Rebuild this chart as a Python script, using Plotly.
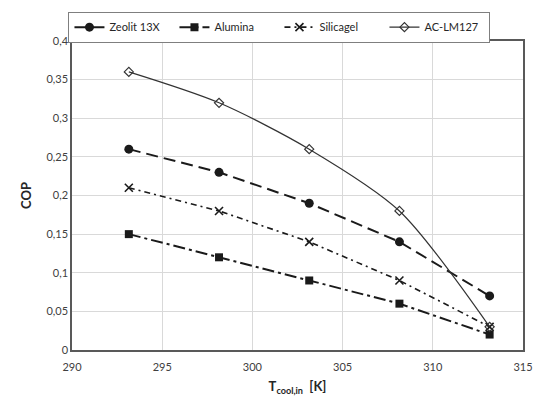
import plotly.graph_objects as go

# Coolant inlet temperature [K]
t_cool_in = [293.15, 298.15, 303.15, 308.15, 313.15]

# COP per adsorbent
cop_zeolit = [0.26, 0.23, 0.19, 0.14, 0.07]
cop_alumina = [0.15, 0.12, 0.09, 0.06, 0.02]
cop_silicagel = [0.21, 0.18, 0.14, 0.09, 0.03]
cop_aclm127 = [0.36, 0.32, 0.26, 0.18, 0.03]

y_ticks = [0, 0.05, 0.1, 0.15, 0.2, 0.25, 0.3, 0.35, 0.4]
y_tick_text = ["0", "0,05", "0,1", "0,15", "0,2", "0,25", "0,3", "0,35", "0,4"]
x_ticks = [290, 295, 300, 305, 310, 315]

FONT = "Lato, 'Open Sans', sans-serif"
INK = "#1a1a1a"

fig = go.Figure()

fig.add_trace(go.Scatter(
    x=t_cool_in, y=cop_zeolit, name="Zeolit 13X", mode="lines+markers",
    line=dict(color=INK, width=2, dash="12px,6px"),
    marker=dict(symbol="circle", size=9, color=INK),
))
fig.add_trace(go.Scatter(
    x=t_cool_in, y=cop_alumina, name="Alumina", mode="lines+markers",
    line=dict(color=INK, width=2, dash="12px,4px,3px,4px"),
    marker=dict(symbol="square", size=8, color=INK),
))
fig.add_trace(go.Scatter(
    x=t_cool_in, y=cop_silicagel, name="Silicagel", mode="lines+markers",
    line=dict(color=INK, width=1.6, dash="6px,4px,2px,4px"),
    marker=dict(symbol="x-thin-open", size=8, color=INK, line=dict(color=INK, width=1.6)),
))
fig.add_trace(go.Scatter(
    x=t_cool_in, y=cop_aclm127, name="AC-LM127", mode="lines+markers",
    line=dict(color="#333333", width=1.2, shape="spline", smoothing=0.8),
    marker=dict(symbol="diamond-open", size=7, color="#333333", line=dict(width=1.2)),
))

fig.update_layout(
    width=545, height=405,
    margin=dict(l=72, r=15, t=40, b=55),
    paper_bgcolor="white", plot_bgcolor="white",
    font=dict(family=FONT, size=11, color="#404040"),
    showlegend=True,
    legend=dict(
        orientation="h", x=0.46, xanchor="center", y=1.095, yanchor="top",
        bordercolor="#7f7f7f", borderwidth=1, bgcolor="white",
        font=dict(family=FONT, size=11, color="#262626"),
        itemwidth=30, entrywidth=60, tracegroupgap=0,
    ),
    xaxis=dict(
        range=[290, 315], tickvals=x_ticks, ticks="",
        ticklabelstandoff=6,
        showgrid=True, gridcolor="#d9d9d9", gridwidth=1,
        showline=True, linecolor="#595959", linewidth=1.5, mirror=True,
        zeroline=False,
        title=dict(text="<b>T<sub>cool,in</sub>  [K]</b>", font=dict(family=FONT, size=13, color="#262626"), standoff=10),
    ),
    yaxis=dict(
        range=[0, 0.4], tickvals=y_ticks, ticktext=y_tick_text, ticks="",
        showgrid=True, gridcolor="#d9d9d9", gridwidth=1,
        showline=True, linecolor="#595959", linewidth=1.5, mirror=True,
        zeroline=False,
        title=dict(text="<b>COP</b>", font=dict(family=FONT, size=13, color="#262626"), standoff=12),
    ),
)

fig.write_html("out.html")
